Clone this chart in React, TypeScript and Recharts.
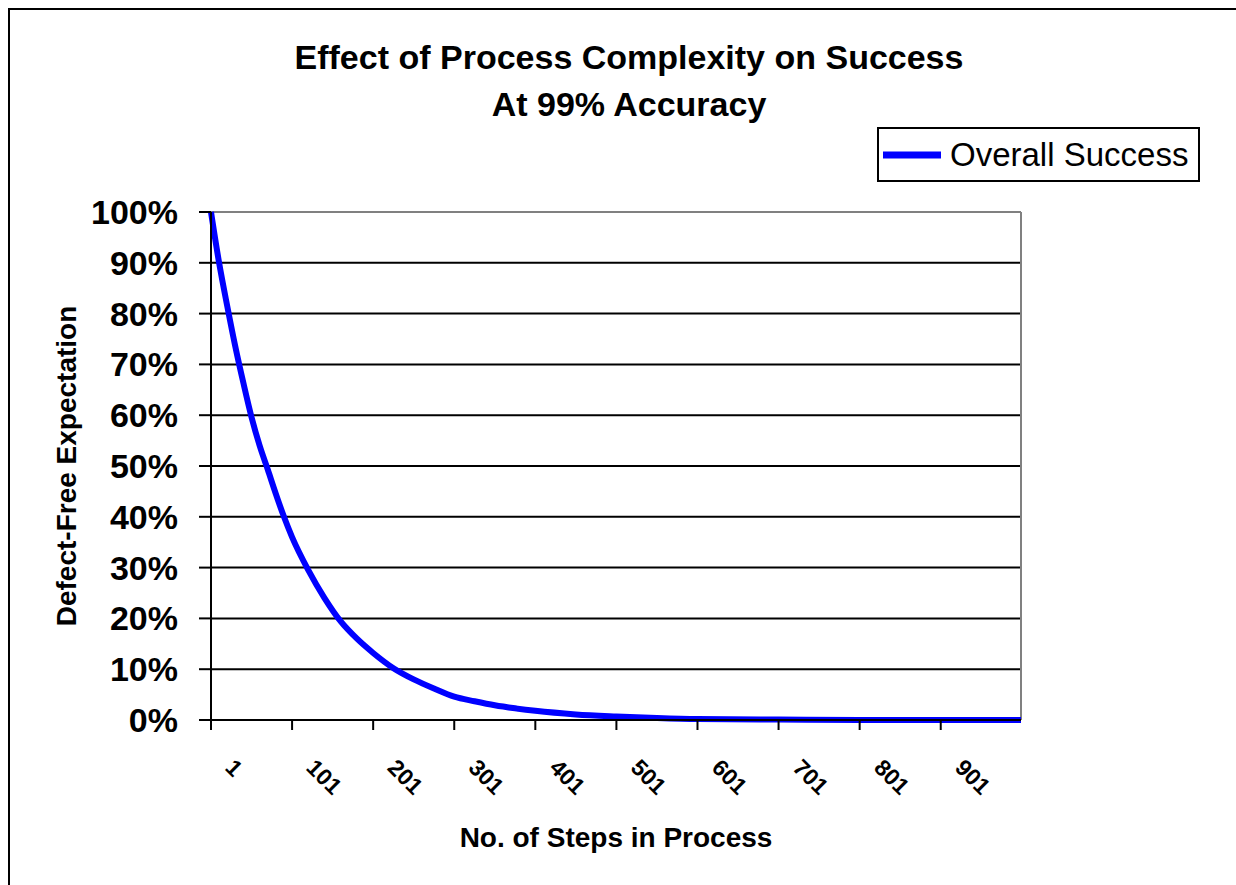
import React from 'react';
import { LineChart, Line, XAxis, YAxis, CartesianGrid, ReferenceLine, Legend, Label, Customized } from 'recharts';

// Steps along the process and the share of runs finishing defect-free (%)
const steps = [1, 11, 21, 31, 41, 51, 61, 71, 81, 91, 101, 121, 141, 161, 181, 201, 226, 251, 276, 301, 326, 351, 376, 401, 451, 501, 551, 601, 701, 801, 901, 1000];
const overallSuccess = [100, 90, 81.5, 73.5, 66.3, 59.6, 54, 49.3, 44.5, 40, 36, 29.5, 24, 19.4, 16, 13.2, 10.2, 8, 6.2, 4.6, 3.7, 2.9, 2.3, 1.8, 1.1, 0.7, 0.4, 0.2, 0.1, 0, 0, 0];

const xTicks = [1, 101, 201, 301, 401, 501, 601, 701, 801, 901];
const yTicks = [0, 10, 20, 30, 40, 50, 60, 70, 80, 90, 100];

const titleLines = ['Effect of Process Complexity on Success', 'At 99% Accuracy'];

const FONT = '"Liberation Sans", Arial, Helvetica, sans-serif';

const data = steps.map((step, i) => ({ step, success: overallSuccess[i] }));

const XTick = (props: any) => {
  const { x, y, payload } = props;
  const tx = x + 13;
  const ty = y + 37;
  return (
    <text
      x={tx}
      y={ty}
      transform={`rotate(45, ${tx}, ${ty})`}
      textAnchor="start"
      fontSize={23}
      fontWeight="bold"
      fontFamily={FONT}
      fill="#000"
    >
      {payload.value}
    </text>
  );
};

const TitleBlock = () => (
  <g>
    {titleLines.map((line, i) => (
      <text
        key={line}
        x={619}
        y={59 + i * 47}
        textAnchor="middle"
        fontSize={34}
        fontWeight="bold"
        fontFamily={FONT}
        fill="#000"
      >
        {line}
      </text>
    ))}
  </g>
);

const LegendBox = () => (
  <div
    style={{
      width: 323,
      height: 55,
      border: '2px solid #000',
      boxSizing: 'border-box',
      background: '#fff',
      display: 'flex',
      alignItems: 'center',
      fontFamily: FONT,
      fontSize: 33,
      color: '#000',
    }}
  >
    <svg width={66} height={20} style={{ flex: 'none' }}>
      <line x1={4} y1={10} x2={62} y2={10} stroke="#0000FF" strokeWidth={7} />
    </svg>
    <span style={{ marginLeft: 5, lineHeight: 1 }}>Overall Success</span>
  </div>
);

const XTitle = (props: any) => {
  const { viewBox } = props;
  return (
    <text
      x={viewBox.x + viewBox.width / 2}
      y={viewBox.y + 127}
      textAnchor="middle"
      fontSize={28}
      fontWeight="bold"
      fontFamily={FONT}
      fill="#000"
    >
      No. of Steps in Process
    </text>
  );
};

const YTitle = (props: any) => {
  const { viewBox } = props;
  const cx = viewBox.x + 25;
  const cy = viewBox.y + viewBox.height / 2;
  return (
    <text
      x={cx}
      y={cy}
      transform={`rotate(-90, ${cx}, ${cy})`}
      textAnchor="middle"
      fontSize={28}
      fontWeight="bold"
      fontFamily={FONT}
      fill="#000"
    >
      Defect-Free Expectation
    </text>
  );
};

export default function App() {
  return (
    <div
      style={{
        position: 'fixed',
        left: 8,
        top: 8,
        width: 1260,
        height: 900,
        borderTop: '2px solid #000',
        borderLeft: '2px solid #000',
        boxSizing: 'border-box',
        background: '#fff',
        overflow: 'hidden',
      }}
    >
      <style>{'html, body { overflow: hidden; }'}</style>
      <LineChart width={1226} height={867} data={data} margin={{ top: 202, right: 215, bottom: 17, left: 41 }}>
        <CartesianGrid vertical={false} stroke="#000" strokeWidth={2} />
        <XAxis
          dataKey="step"
          type="number"
          domain={[1, 1000]}
          ticks={xTicks}
          interval={0}
          height={140}
          tickSize={10}
          tickMargin={2}
          axisLine={{ stroke: '#000', strokeWidth: 2 }}
          tickLine={{ stroke: '#000', strokeWidth: 2 }}
          tick={<XTick />}
        >
          <Label content={<XTitle />} />
        </XAxis>
        <YAxis
          type="number"
          domain={[0, 100]}
          ticks={yTicks}
          interval={0}
          width={160}
          tickSize={12}
          tickMargin={21}
          tickFormatter={(v: number) => `${v}%`}
          axisLine={{ stroke: '#000', strokeWidth: 2 }}
          tickLine={{ stroke: '#000', strokeWidth: 2 }}
          tick={{ fill: '#000', fontSize: 34, fontWeight: 'bold', fontFamily: FONT }}
        >
          <Label content={<YTitle />} />
        </YAxis>
        <ReferenceLine y={100} stroke="#808080" strokeWidth={2} />
        <ReferenceLine x={1000} stroke="#808080" strokeWidth={2} />
        <Line
          type="monotone"
          dataKey="success"
          name="Overall Success"
          stroke="#0000FF"
          strokeWidth={6}
          dot={false}
          isAnimationActive={false}
        />
        <Legend
          layout="horizontal"
          verticalAlign="middle"
          align="center"
          content={<LegendBox />}
          wrapperStyle={{ left: 867, top: 117, width: 323, height: 55 }}
        />
        <Customized component={TitleBlock} />
      </LineChart>
    </div>
  );
}
